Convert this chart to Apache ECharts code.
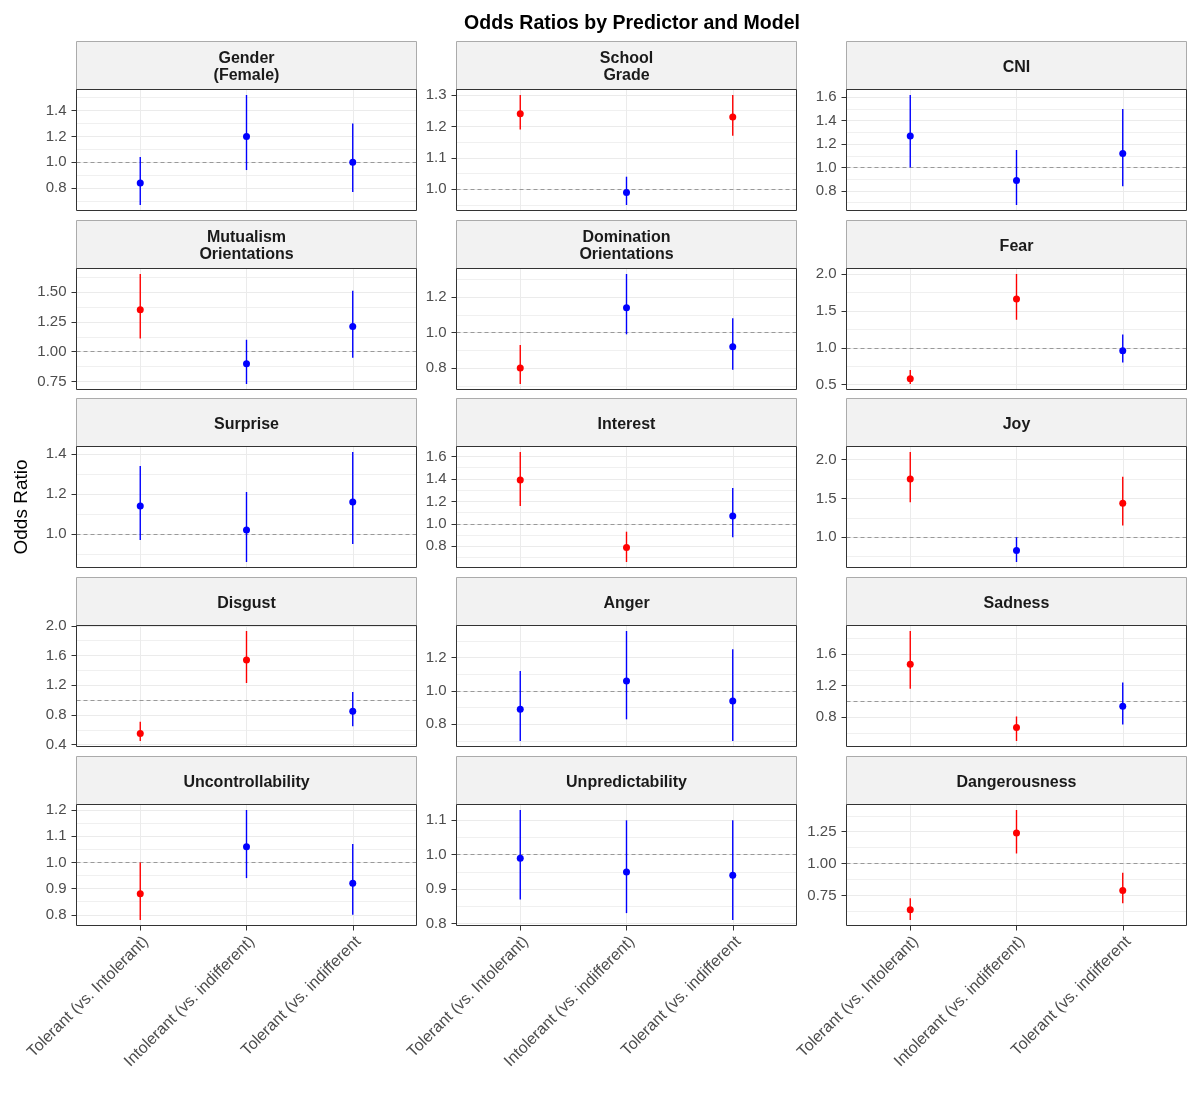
<!DOCTYPE html>
<html>
<head>
<meta charset="utf-8">
<title>Odds Ratios by Predictor and Model</title>
<script src="https://cdn.jsdelivr.net/npm/echarts@6/dist/echarts.min.js"></script>
<style>
  html, body { margin: 0; padding: 0; background: #fff; }
  #chart { width: 1200px; height: 1100px; }
</style>
</head>
<body>
<div id="chart"></div>
<script>
// one panel per predictor, three models each
var predictors = [
    'Gender\n(Female)', 'School\nGrade', 'CNI',
    'Mutualism\nOrientations', 'Domination\nOrientations', 'Fear',
    'Surprise', 'Interest', 'Joy',
    'Disgust', 'Anger', 'Sadness',
    'Uncontrollability', 'Unpredictability', 'Dangerousness'
];

var models = ['Tolerant (vs. Intolerant)', 'Intolerant (vs. indifferent)', 'Tolerant (vs. indifferent'];

var estimate = [
    [0.84, 1.20, 1.00], [1.24, 0.99, 1.23], [1.27, 0.89, 1.12],
    [1.35, 0.90, 1.21], [0.80, 1.14, 0.92], [0.58, 1.66, 0.96],
    [1.14, 1.02, 1.16], [1.39, 0.79, 1.07], [1.75, 0.83, 1.44],
    [0.55, 1.54, 0.85], [0.89, 1.06, 0.94], [1.47, 0.67, 0.94],
    [0.88, 1.06, 0.92], [0.99, 0.95, 0.94], [0.64, 1.24, 0.79]
];

var lower = [
    [0.67, 0.94, 0.77], [1.19, 0.95, 1.17], [1.00, 0.68, 0.84],
    [1.11, 0.73, 0.95], [0.71, 0.99, 0.79], [0.51, 1.38, 0.80],
    [0.97, 0.86, 0.95], [1.16, 0.66, 0.88], [1.45, 0.68, 1.15],
    [0.45, 1.23, 0.65], [0.70, 0.83, 0.70], [1.16, 0.50, 0.71],
    [0.78, 0.94, 0.80], [0.87, 0.83, 0.81], [0.56, 1.08, 0.69]
];

var upper = [
    [1.04, 1.52, 1.30], [1.30, 1.04, 1.30], [1.62, 1.15, 1.50],
    [1.65, 1.10, 1.51], [0.93, 1.33, 1.08], [0.70, 2.00, 1.18],
    [1.34, 1.21, 1.41], [1.64, 0.93, 1.32], [2.10, 1.00, 1.78],
    [0.71, 1.93, 1.11], [1.12, 1.36, 1.25], [1.89, 0.81, 1.24],
    [1.00, 1.20, 1.07], [1.13, 1.10, 1.10], [0.73, 1.42, 0.93]
];

// 1 = significant (red), 0 = not (blue)
var significant = [
    [0, 0, 0], [1, 0, 1], [0, 0, 0],
    [1, 0, 0], [1, 0, 0], [1, 1, 0],
    [0, 0, 0], [1, 1, 0], [1, 0, 1],
    [1, 1, 0], [0, 0, 0], [1, 1, 0],
    [1, 0, 0], [0, 0, 0], [1, 1, 1]
];

var yTickLabels = [
    ['0.8', '1.0', '1.2', '1.4'], ['1.0', '1.1', '1.2', '1.3'], ['0.8', '1.0', '1.2', '1.4', '1.6'],
    ['0.75', '1.00', '1.25', '1.50'], ['0.8', '1.0', '1.2'], ['0.5', '1.0', '1.5', '2.0'],
    ['1.0', '1.2', '1.4'], ['0.8', '1.0', '1.2', '1.4', '1.6'], ['1.0', '1.5', '2.0'],
    ['0.4', '0.8', '1.2', '1.6', '2.0'], ['0.8', '1.0', '1.2'], ['0.8', '1.2', '1.6'],
    ['0.8', '0.9', '1.0', '1.1', '1.2'], ['0.8', '0.9', '1.0', '1.1'], ['0.75', '1.00', '1.25']
];

var FONT = '"Liberation Sans", Arial, sans-serif';
var colLeft = [76.5, 456.5, 846.5];
var panelWidth = 340;
var rowStep = 178.8;
var stripHeight = 48;
var panelHeight = 121;
var nRows = 5;

var grids = [], xAxes = [], yAxes = [], series = [], graphics = [];

predictors.forEach(function (name, p) {
    var row = Math.floor(p / 3), col = p % 3;
    var stripTop = Math.floor(41.2 + row * rowStep) + 0.5;
    var isBottom = row === nRows - 1;

    // range like ggplot: data span plus 5% each side
    var lo = Math.min.apply(null, lower[p].concat([1]));
    var hi = Math.max.apply(null, upper[p].concat([1]));
    var pad = (hi - lo) * 0.05;
    var yMin = lo - pad, yMax = hi + pad;

    var majors = yTickLabels[p].map(Number);
    var step = majors[1] - majors[0];
    var minors = [];
    for (var k = -1; k < majors.length; k++) {
        var m = majors[0] + (k + 0.5) * step;
        if (m > yMin && m < yMax) minors.push(+m.toFixed(4));
    }

    grids.push({
        left: colLeft[col], top: stripTop + stripHeight,
        width: panelWidth, height: panelHeight,
        show: true, backgroundColor: '#fff', borderWidth: 0
    });

    xAxes.push({
        gridIndex: p, type: 'value', min: 0.4, max: 3.6,
        axisLine: { show: false },
        axisTick: { show: isBottom, length: 5, customValues: [1, 2, 3], lineStyle: { color: '#333' } },
        axisLabel: {
            show: isBottom, customValues: [1, 2, 3], rotate: 45, margin: 8,
            align: 'right', verticalAlign: 'top',
            color: '#4D4D4D', fontSize: 16, fontFamily: FONT,
            formatter: function (v) { return models[Math.round(v) - 1]; }
        },
        splitLine: { show: true, lineStyle: { color: '#EBEBEB', width: 1 } }
    });

    yAxes.push({
        gridIndex: p, type: 'value', min: yMin, max: yMax, position: 'left',
        axisLine: { show: false },
        axisTick: { show: true, length: 5, customValues: majors, lineStyle: { color: '#333' } },
        axisLabel: {
            customValues: majors, margin: 10,
            color: '#4D4D4D', fontSize: 15, fontFamily: FONT,
            formatter: function (v) {
                var best = 0;
                majors.forEach(function (t, i) {
                    if (Math.abs(t - v) < Math.abs(majors[best] - v)) best = i;
                });
                return yTickLabels[p][best];
            }
        },
        splitLine: { show: true, lineStyle: { color: '#EBEBEB', width: 1 } }
    });
    // minor grid lines
    yAxes.push({
        gridIndex: p, type: 'value', min: yMin, max: yMax, position: 'left',
        axisLine: { show: false },
        axisTick: { show: false, customValues: minors },
        axisLabel: { show: false },
        splitLine: { show: true, lineStyle: { color: '#F0F0F0', width: 1 } }
    });

    var barData = [], pointData = [];
    models.forEach(function (m, i) {
        var c = significant[p][i] ? '#FF0000' : '#0000FF';
        barData.push({ value: [i + 1, lower[p][i], upper[p][i]], itemStyle: { color: c } });
        pointData.push({ value: [i + 1, estimate[p][i]], itemStyle: { color: c, opacity: 1 } });
    });

    series.push({
        type: 'custom', xAxisIndex: p, yAxisIndex: 2 * p, z: 3, silent: true,
        encode: { x: 0, y: [1, 2] },
        data: barData,
        renderItem: function (params, api) {
            var a = api.coord([api.value(0), api.value(1)]);
            var b = api.coord([api.value(0), api.value(2)]);
            return {
                type: 'line',
                shape: { x1: a[0], y1: a[1], x2: b[0], y2: b[1] },
                style: { stroke: api.visual('color'), lineWidth: 1.4 }
            };
        }
    });

    series.push({
        type: 'scatter', xAxisIndex: p, yAxisIndex: 2 * p, z: 4, silent: true,
        symbol: 'circle', symbolSize: 7,
        itemStyle: { opacity: 1 },
        data: pointData,
        markLine: {
            silent: true, symbol: 'none', z: 2,
            label: { show: false },
            lineStyle: { color: '#999999', type: [4, 3], width: 1 },
            data: [{ yAxis: 1 }]
        }
    });

    // facet strip
    graphics.push({
        type: 'rect', silent: true,
        shape: { x: colLeft[col], y: stripTop, width: panelWidth, height: stripHeight },
        style: { fill: '#F2F2F2', stroke: '#ABABAB', lineWidth: 1 }
    });
    graphics.push({
        type: 'text', silent: true,
        x: colLeft[col] + panelWidth / 2, y: stripTop + stripHeight / 2 + 2,
        style: {
            text: name, fill: '#1A1A1A', font: 'bold 16px ' + FONT,
            textAlign: 'center', textVerticalAlign: 'middle', lineHeight: 17
        }
    });
    // panel border on top of the plot
    graphics.push({
        type: 'rect', silent: true, z: 100,
        shape: { x: colLeft[col], y: stripTop + stripHeight, width: panelWidth, height: panelHeight },
        style: { fill: null, stroke: '#333333', lineWidth: 1 }
    });
});

graphics.push({
    type: 'text', silent: true,
    x: 22, y: 507, rotation: Math.PI / 2,
    style: {
        text: 'Odds Ratio', fill: '#000', font: '19px ' + FONT,
        textAlign: 'center', textVerticalAlign: 'middle'
    }
});

var myChart = echarts.init(document.getElementById('chart'));
myChart.setOption({
    backgroundColor: '#fff',
    animation: false,
    title: {
        text: 'Odds Ratios by Predictor and Model',
        left: 627, top: 9, textAlign: 'center',
        textStyle: { fontSize: 19.5, fontWeight: 'bold', color: '#000', fontFamily: FONT }
    },
    grid: grids,
    xAxis: xAxes,
    yAxis: yAxes,
    series: series,
    graphic: graphics
});
</script>
</body>
</html>
